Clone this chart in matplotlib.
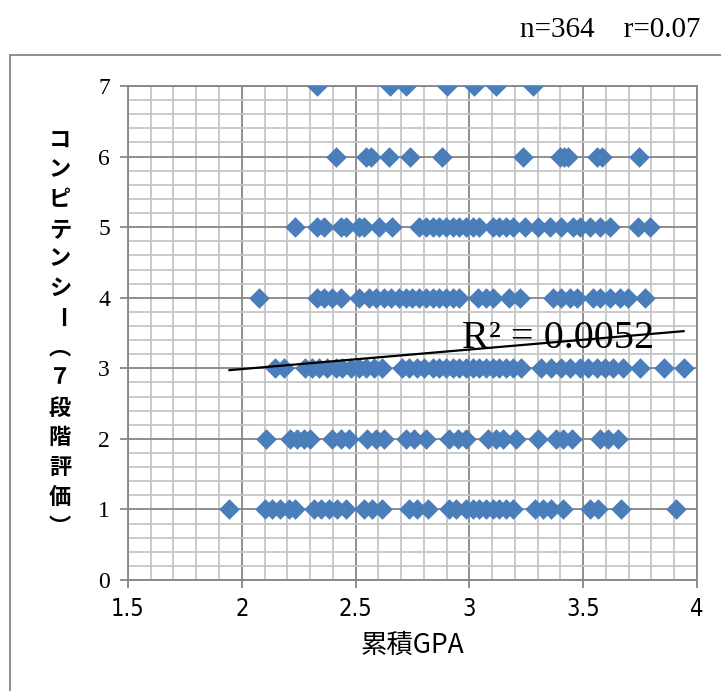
"""
累積GPA とコンピテンシー（7段階評価）の散布図 + 線形近似
"""

import numpy as np
import matplotlib.pyplot as plt
from matplotlib.lines import Line2D
from matplotlib.ticker import MultipleLocator

# --- データ ---
gpa_7 = [2.332, 2.652, 2.720, 2.900, 3.020, 3.117, 3.278]
gpa_6 = [2.412, 2.544, 2.566, 2.647, 2.740, 2.879, 3.235, 3.397, 3.415, 3.434,
         3.559, 3.581, 3.746]
gpa_5 = [2.232, 2.331, 2.360, 2.434, 2.456, 2.515, 2.537, 2.603, 2.662, 2.779,
         2.809, 2.838, 2.868, 2.897, 2.926, 2.956, 2.985, 3.015, 3.044, 3.103,
         3.132, 3.162, 3.191, 3.243, 3.301, 3.353, 3.404, 3.456, 3.485, 3.529,
         3.574, 3.618, 3.743, 3.794]
gpa_4 = [2.076, 2.331, 2.360, 2.397, 2.434, 2.515, 2.559, 2.588, 2.625, 2.654,
         2.691, 2.721, 2.750, 2.779, 2.809, 2.838, 2.868, 2.897, 2.926, 2.956,
         3.037, 3.074, 3.103, 3.176, 3.221, 3.368, 3.404, 3.441, 3.471, 3.544,
         3.574, 3.618, 3.662, 3.699, 3.772]
gpa_3 = [2.147, 2.184, 2.279, 2.309, 2.338, 2.375, 2.412, 2.441, 2.478, 2.515,
         2.544, 2.581, 2.618, 2.706, 2.735, 2.772, 2.801, 2.838, 2.868, 2.897,
         2.926, 2.956, 2.985, 3.015, 3.044, 3.074, 3.103, 3.132, 3.162, 3.191,
         3.228, 3.316, 3.360, 3.404, 3.441, 3.485, 3.522, 3.559, 3.596, 3.632,
         3.676, 3.750, 3.853, 3.941]
gpa_2 = [2.106, 2.213, 2.243, 2.272, 2.301, 2.397, 2.434, 2.471, 2.551, 2.588,
         2.625, 2.721, 2.757, 2.809, 2.912, 2.949, 2.985, 3.081, 3.118, 3.147,
         3.206, 3.301, 3.382, 3.412, 3.449, 3.574, 3.610, 3.654]
gpa_1 = [1.946, 2.103, 2.132, 2.169, 2.206, 2.235, 2.316, 2.346, 2.382, 2.419,
         2.456, 2.537, 2.574, 2.618, 2.735, 2.772, 2.816, 2.912, 2.941, 2.985,
         3.015, 3.044, 3.074, 3.103, 3.132, 3.162, 3.191, 3.287, 3.324, 3.360,
         3.412, 3.529, 3.566, 3.665, 3.907]
levels = [7, 6, 5, 4, 3, 2, 1]

# 近似直線 y = a*x + b（Excel の線形近似）
trend_slope = 0.277
trend_intercept = 2.435
r2_label = "R² = 0.0052"
stats_label = "n=364\u3000r=0.07"

x_ticks = [1.5, 2, 2.5, 3, 3.5, 4]
y_ticks = [0, 1, 2, 3, 4, 5, 6, 7]
ylabel_chars = ["コ", "ン", "ピ", "テ", "ン", "シ", "ー", "︵", "７",
                "段", "階", "評", "価", "︶"]

MARKER = "#4a7ebb"
GRID_MINOR = "#c6c6c6"
GRID_MAJOR = "#868686"


def main():
    gpa = np.concatenate([gpa_7, gpa_6, gpa_5, gpa_4, gpa_3, gpa_2, gpa_1])
    score = np.concatenate([np.full(len(g), lv) for g, lv in
                            zip([gpa_7, gpa_6, gpa_5, gpa_4, gpa_3, gpa_2, gpa_1], levels)])

    fig = plt.figure(figsize=(7.21, 6.91), dpi=100)
    ax = fig.add_axes([0.1775, 0.1606, 0.7892, 0.7149])

    ax.set_xlim(1.5, 4)
    ax.set_ylim(0, 7)
    ax.xaxis.set_major_locator(MultipleLocator(0.5))
    ax.xaxis.set_minor_locator(MultipleLocator(0.1))
    ax.yaxis.set_major_locator(MultipleLocator(1))
    ax.yaxis.set_minor_locator(MultipleLocator(0.2))
    ax.grid(which="minor", color=GRID_MINOR, lw=1.3, zorder=0)
    ax.grid(which="major", color=GRID_MAJOR, lw=1.3, zorder=0)
    ax.set_axisbelow(True)
    for sp in ax.spines.values():
        sp.set_color(GRID_MAJOR)
        sp.set_linewidth(1.3)

    ax.tick_params(which="minor", length=0)
    ax.tick_params(which="major", length=6, color=GRID_MAJOR, width=1.3)
    ax.tick_params(axis="y", pad=7)
    ax.tick_params(axis="x", pad=6)

    ax.set_xticks(x_ticks)
    ax.set_xticklabels(["1.5", "2", "2.5", "3", "3.5", "4"],
                       family=["Liberation Sans Narrow", "DejaVu Sans"],
                       fontstretch="condensed", fontsize=17)
    ax.set_yticks(y_ticks)
    ax.set_yticklabels([str(v) for v in y_ticks],
                       family=["Liberation Serif"], fontsize=17)

    ax.scatter(gpa, score, marker="D", s=110, color=MARKER, linewidths=0, zorder=3)

    xs = np.array([gpa.min(), gpa.max()])
    ax.plot(xs, trend_slope * xs + trend_intercept, color="black", lw=1.6, zorder=4)
    ax.text(3.39, 3.29, r2_label, ha="center", va="baseline",
            family=["Liberation Serif"], fontsize=29, zorder=5)

    ax.set_xlabel("累積GPA", family=["Noto Sans CJK JP"], fontsize=19, labelpad=8)

    # 縦書きラベル（長音記号は90度回転）
    n = len(ylabel_chars)
    top, bottom = 1 - 140 / 691, 1 - 527 / 691
    for i, ch in enumerate(ylabel_chars):
        yy = top - (top - bottom) * i / (n - 1)
        fig.text(60 / 721, yy, ch, ha="center", va="center",
                 rotation=-90 if ch == "ー" else 0,
                 family=["Noto Sans CJK JP", "DejaVu Sans"], fontweight="bold", fontsize=16)

    fig.text(700 / 721, 1 - 30 / 691, stats_label, ha="right", va="center",
             family=["Liberation Serif", "Noto Sans CJK JP"], fontsize=21)

    # グラフエリアの枠（切れている）
    fx, fy = 10 / 721, 1 - 55 / 691
    fig.add_artist(Line2D([fx, 1], [fy, fy], color=GRID_MAJOR, lw=1.3, transform=fig.transFigure))
    fig.add_artist(Line2D([fx, fx], [0, fy], color=GRID_MAJOR, lw=1.3, transform=fig.transFigure))

    fig.savefig("out.png", dpi=100)
    plt.close(fig)


if __name__ == "__main__":
    main()
